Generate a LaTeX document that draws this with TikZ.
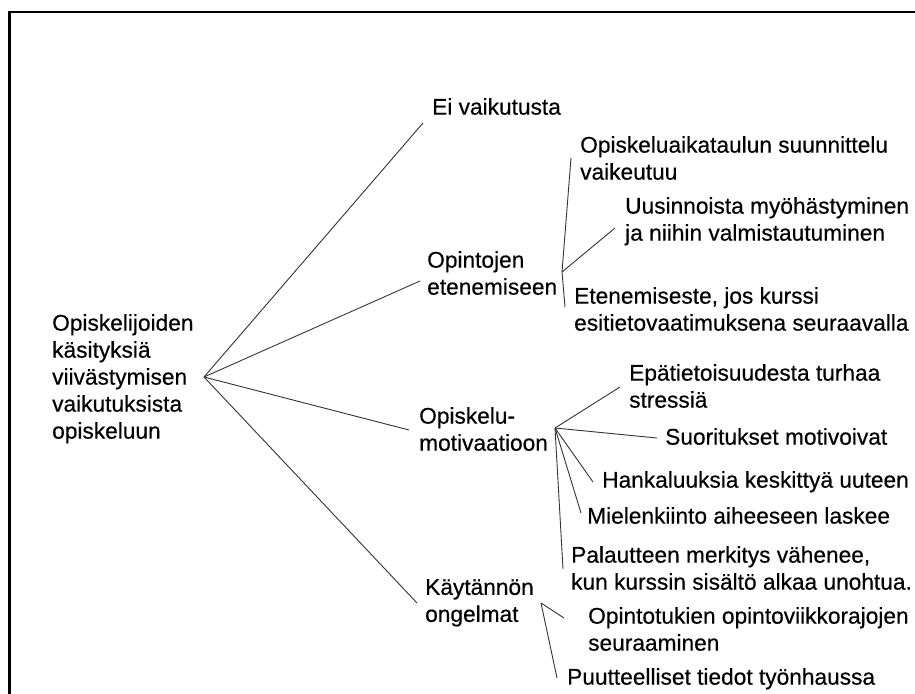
\documentclass[tikz,border=0pt]{standalone}
\usepackage{fontspec}
\setmainfont{Liberation Sans}[FakeBold=0.4]
\begin{document}
\begin{tikzpicture}[x=1pt,y=-1pt,
  lbl/.style={anchor=north west,inner sep=0pt,align=left,
    font=\fontsize{22.7}{27}\selectfont,text=black},
  conn/.style={draw=black!80,line width=0.9pt},
  frame/.style={draw=black,line width=2.6pt}]
\useasboundingbox (0,0) rectangle (915,693);
% frame (left and top edges visible)
\coordinate (fbl) at (9.5,700);
\coordinate (ftl) at (9.5,12);
\coordinate (ftr) at (920,12);
\draw[frame] (fbl) -- (ftl) -- (ftr);

% labels (top = first baseline - 19)
\node[lbl] (root) at (52,314) {Opiskelijoiden\\käsityksiä\\viivästymisen\\vaikutuksista\\opiskeluun};
\node[lbl] (ei) at (432,98) {Ei vaikutusta};
\node[lbl] (opin) at (427,251) {Opintojen\\etenemiseen};
\node[lbl] (mot) at (419,407) {Opiskelu-\\motivaatioon};
\node[lbl] (kay) at (425,579) {Käytännön\\ongelmat};

\node[lbl] (o1) at (580,136) {Opiskeluaikataulun suunnittelu\\vaikeutuu};
\node[lbl] (o2) at (625,197) {Uusinnoista myöhästyminen\\ja niihin valmistautuminen};
\node[lbl] (o3) at (574,287) {Etenemiseste, jos kurssi\\esitietovaatimuksena seuraavalla};

\node[lbl] (m1) at (629,364) {Epätietoisuudesta turhaa\\stressiä};
\node[lbl] (m2) at (665,428) {Suoritukset motivoivat};
\node[lbl] (m3) at (602,471) {Hankaluuksia keskittyä uuteen};
\node[lbl] (m4) at (587,507) {Mielenkiinto aiheeseen laskee};
\node[lbl] (m5) at (571,546) {Palautteen merkitys vähenee,\\kun kurssin sisältö alkaa unohtua.};

\node[lbl] (k1) at (588,607) {Opintotukien opintoviikkorajojen\\seuraaminen};
\node[lbl] (k2) at (567,668) {Puutteelliset tiedot työnhaussa};

% connector end points
\coordinate (rootR) at (204,377);
\coordinate (eiL) at (423,123);
\coordinate (opinL) at (420,281);
\coordinate (motL) at (409,430);
\coordinate (kayL) at (417,603);

\coordinate (opinR) at (562,272);
\coordinate (o1L) at (571,158);
\coordinate (o2L) at (615,228);
\coordinate (o3L) at (565,307);

\coordinate (motR) at (555,428);
\coordinate (m1L) at (620,387);
\coordinate (m2L) at (657,438);
\coordinate (m3L) at (593,482);
\coordinate (m4L) at (581,513);
\coordinate (m5L) at (563,569);

\coordinate (kayR) at (541,603);
\coordinate (k1L) at (564,618);
\coordinate (k2L) at (557,678);

\draw[conn] (rootR) -- (eiL);
\draw[conn] (rootR) -- (opinL);
\draw[conn] (rootR) -- (motL);
\draw[conn] (rootR) -- (kayL);

\draw[conn] (opinR) -- (o1L);
\draw[conn] (opinR) -- (o2L);
\draw[conn] (opinR) -- (o3L);

\draw[conn] (motR) -- (m1L);
\draw[conn] (motR) -- (m2L);
\draw[conn] (motR) -- (m3L);
\draw[conn] (motR) -- (m4L);
\draw[conn] (motR) -- (m5L);

\draw[conn] (kayR) -- (k1L);
\draw[conn] (kayR) -- (k2L);
\end{tikzpicture}
\end{document}
